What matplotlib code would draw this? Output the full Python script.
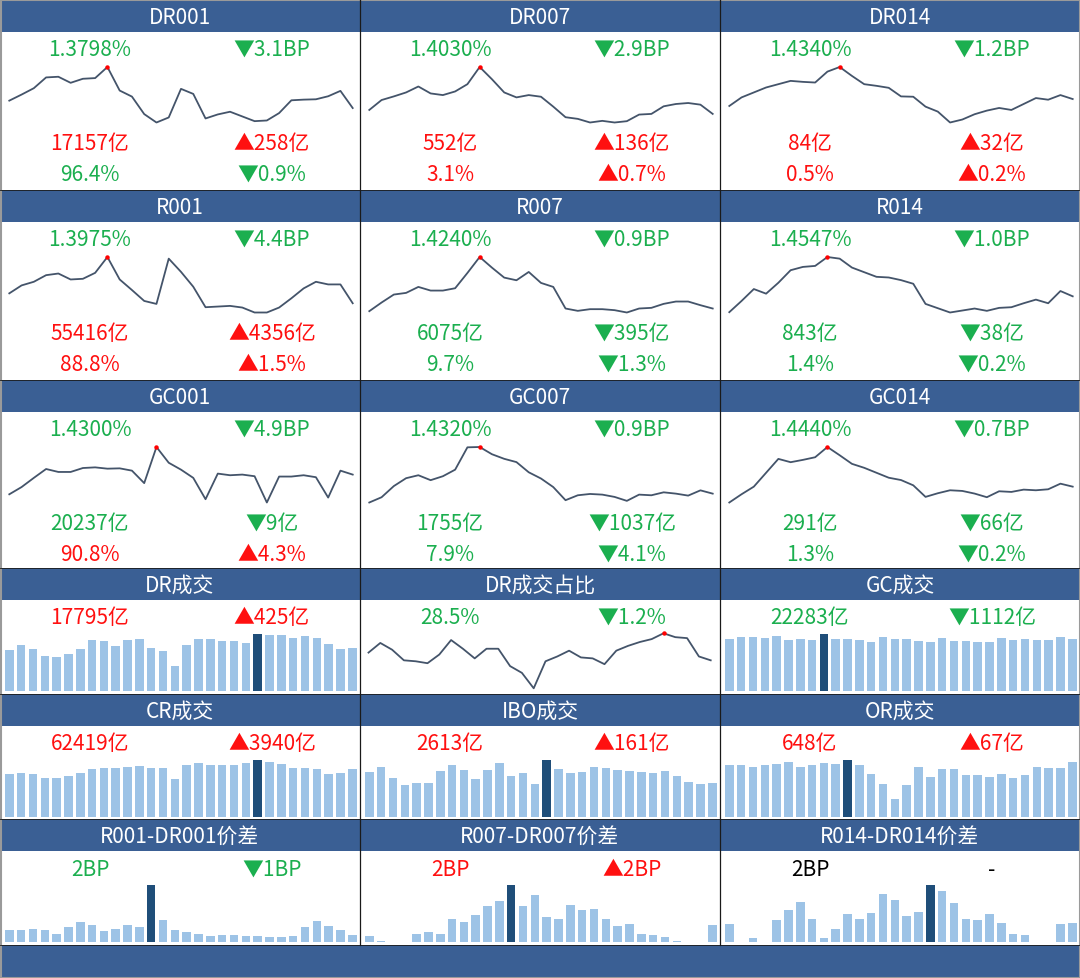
import numpy as np
import matplotlib
matplotlib.use("Agg")
import matplotlib.pyplot as plt
from matplotlib.patches import Rectangle

W, H = 1080, 979

FAM = ["Noto Sans CJK SC", "Noto Sans CJK JP", "Noto Sans CJK TC", "Noto Sans CJK KR", "DejaVu Sans"]
plt.rcParams["font.family"] = FAM

HEAD = "#3A5F94"
GREEN = "#1BAF4F"
RED = "#FF1010"
LINE = "#44546A"
BAR = "#9DC3E6"
BAR_HI = "#1F4E79"

# ---- rate panels (3 x 3) ----
rate_names = ["DR001", "DR007", "DR014", "R001", "R007", "R014", "GC001", "GC007", "GC014"]
rates = [1.3798, 1.4030, 1.4340, 1.3975, 1.4240, 1.4547, 1.4300, 1.4320, 1.4440]
rate_chg_bp = [-3.1, -2.9, -1.2, -4.4, -0.9, -1.0, -4.9, -0.9, -0.7]
volumes = [17157, 552, 84, 55416, 6075, 843, 20237, 1755, 291]
volume_chg = [258, 136, 32, 4356, -395, -38, -9, -1037, -66]
shares = [96.4, 3.1, 0.5, 88.8, 9.7, 1.4, 90.8, 7.9, 1.3]
share_chg = [-0.9, 0.7, 0.2, 1.5, -1.3, -0.2, 4.3, -4.1, -0.2]

# sparkline levels (relative)
dr001 = [95, 113, 132, 164, 166, 148, 160, 162, 195, 125, 107, 55, 30, 45, 130, 115, 42, 54, 62, 48, 34, 36, 58, 96, 98, 99, 108, 124, 73]
dr007 = [67, 97, 108, 120, 138, 117, 112, 123, 145, 197, 160, 120, 105, 112, 107, 77, 45, 40, 29, 34, 29, 33, 53, 55, 78, 85, 88, 83, 55]
dr014 = [79, 105, 120, 135, 145, 155, 152, 150, 183, 197, 170, 145, 140, 134, 108, 107, 77, 62, 29, 38, 54, 65, 73, 67, 85, 103, 98, 112, 100]
r001 = [90, 114, 125, 145, 150, 132, 134, 152, 200, 132, 100, 67, 58, 195, 155, 110, 48, 50, 52, 47, 32, 32, 47, 75, 105, 125, 117, 117, 60]
r007 = [37, 63, 87, 92, 110, 99, 99, 106, 152, 200, 168, 138, 130, 155, 122, 110, 45, 38, 43, 43, 40, 33, 45, 47, 59, 66, 66, 55, 45]
r014 = [33, 67, 103, 89, 122, 160, 170, 173, 200, 195, 168, 154, 140, 138, 130, 119, 58, 45, 32, 38, 44, 37, 46, 48, 60, 71, 60, 97, 81]
gc001 = [60, 82, 110, 137, 128, 128, 140, 142, 138, 139, 132, 94, 204, 156, 135, 110, 45, 123, 118, 120, 115, 35, 114, 114, 118, 112, 50, 132, 120]
gc007 = [35, 51, 85, 109, 118, 103, 115, 135, 203, 204, 182, 168, 158, 127, 108, 82, 42, 57, 61, 59, 52, 40, 59, 57, 66, 62, 56, 72, 62]
gc014 = [35, 60, 83, 125, 167, 157, 164, 172, 203, 178, 152, 140, 125, 110, 103, 87, 52, 63, 72, 70, 62, 51, 69, 67, 74, 72, 75, 92, 83]
rate_series = [dr001, dr007, dr014, r001, r007, r014, gc001, gc007, gc014]

# ---- turnover panels ----
dr_share = 28.5
dr_share_chg = -1.2
dr_share_line = [44, 54, 47, 36, 35, 33, 42, 57, 48, 38, 48, 48, 30, 23, 7, 35, 40, 46, 39, 38, 32, 46, 51, 55, 58, 64, 60, 59, 40, 36]

dr_turnover = [125, 139, 128, 106, 104, 111, 127, 153, 150, 137, 153, 158, 130, 121, 75, 139, 156, 156, 150, 150, 145, 172, 170, 170, 161, 165, 161, 141, 127, 130]
gc_turnover = [155, 161, 161, 159, 164, 154, 157, 152, 171, 157, 157, 152, 148, 161, 155, 155, 150, 148, 159, 151, 151, 148, 148, 159, 153, 155, 153, 153, 163, 156]
cr_turnover = [127, 132, 127, 115, 115, 122, 130, 142, 145, 145, 149, 152, 147, 147, 112, 154, 162, 156, 156, 156, 162, 170, 164, 159, 146, 146, 144, 127, 132, 142]
ibo_turnover = [135, 149, 117, 95, 100, 102, 136, 154, 140, 112, 140, 162, 122, 132, 99, 170, 142, 130, 134, 148, 146, 141, 137, 134, 130, 137, 122, 104, 97, 102]
or_turnover = [156, 156, 149, 155, 157, 164, 149, 154, 162, 157, 170, 154, 127, 97, 54, 96, 150, 118, 142, 144, 125, 126, 120, 128, 117, 125, 150, 147, 147, 163]

turn_names = ["DR成交", "GC成交", "CR成交", "IBO成交", "OR成交"]
turn_totals = [17795, 22283, 62419, 2613, 648]
turn_chg = [425, -1112, 3940, 161, 67]
turn_series = [dr_turnover, gc_turnover, cr_turnover, ibo_turnover, or_turnover]

# ---- spread panels ----
spread_names = ["R001-DR001价差", "R007-DR007价差", "R014-DR014价差"]
spreads = [2, 2, 2]
spread_chg = [-1, 2, None]
sp001 = [37, 37, 40, 36, 25, 44, 61, 52, 33, 38, 50, 45, 170, 66, 37, 30, 23, 18, 22, 20, 18, 18, 16, 16, 18, 44, 63, 49, 37, 20]
sp007 = [18, 2, 0, 0, 23, 30, 23, 70, 61, 82, 108, 123, 170, 106, 139, 75, 70, 110, 94, 99, 70, 49, 53, 24, 20, 16, 2, 0, 0, 51]
sp014 = [55, 0, 12, 0, 67, 94, 118, 69, 12, 40, 84, 70, 87, 143, 126, 78, 90, 170, 151, 115, 68, 66, 84, 56, 25, 20, 0, 0, 53, 58]
spread_series = [sp001, sp007, sp014]

COL_X = [0, 360, 720]
HEAD_Y = [1, 191, 381, 569, 695, 820]
HEAD_H = 32
FONT = 15
TITLE = 15
LX, RX = 90, 272


def px_axes(fig, x, y, w, h):
    ax = fig.add_axes([x / W, 1 - (y + h) / H, w / W, h / H])
    ax.axis("off")
    ax.patch.set_alpha(0)
    return ax


def arrow(c):
    return "▲" if c > 0 else "▼"


def color(c):
    return RED if c > 0 else GREEN


def label(base, x, y, s, c, size=FONT):
    base.text(x, y, s, color=c, ha="center", va="center", fontsize=size, family=FAM)


def header(base, x, y, title):
    base.add_patch(Rectangle((x, y), 360, HEAD_H, facecolor=HEAD, edgecolor="none"))
    label(base, x + 180, y + HEAD_H / 2 + 1, title, "white", TITLE)


def sparkline(fig, x, y, vals, x0=9.3, x1=352.7, top=67, bot=122.5):
    ax = px_axes(fig, x + x0, y + top, x1 - x0, bot - top)
    n = len(vals)
    ax.plot(range(n), vals, color=LINE, lw=1.3, clip_on=False)
    i = int(np.argmax(vals))
    ax.plot(i, vals[i], "o", color="red", ms=3.2, mec="none", clip_on=False)
    ax.set_xlim(0, n - 1)
    ax.set_ylim(min(vals), max(vals))


def bar_panel(fig, x, y, vals):
    ax = px_axes(fig, x + 3.4, y + 66, 354.8, 57)
    n = len(vals)
    hi = int(np.argmax(vals))
    cols = [BAR_HI if i == hi else BAR for i in range(n)]
    ax.bar(range(n), vals, width=0.72, color=cols)
    ax.set_xlim(-0.5, n - 0.5)
    ax.set_ylim(0, max(vals))


def main():
    fig = plt.figure(figsize=(W / 100, H / 100), dpi=100)
    base = fig.add_axes([0, 0, 1, 1])
    base.set_xlim(0, W)
    base.set_ylim(H, 0)
    base.axis("off")

    # rate panels
    for k, name in enumerate(rate_names):
        x = COL_X[k % 3]
        y = HEAD_Y[k // 3]
        header(base, x, y, name)
        c = color(rate_chg_bp[k])
        label(base, x + LX, y + 49, f"{rates[k]:.4f}%", c)
        label(base, x + RX, y + 49, f"{arrow(rate_chg_bp[k])}{abs(rate_chg_bp[k]):.1f}BP", c)
        c = color(volume_chg[k])
        label(base, x + LX, y + 143, f"{volumes[k]}亿", c)
        label(base, x + RX, y + 143, f"{arrow(volume_chg[k])}{abs(volume_chg[k])}亿", c)
        c = color(share_chg[k])
        label(base, x + LX, y + 174, f"{shares[k]:.1f}%", c)
        label(base, x + RX, y + 174, f"{arrow(share_chg[k])}{abs(share_chg[k]):.1f}%", c)
        sparkline(fig, x, y, rate_series[k])

    # turnover panels: DR, [share line], GC / CR, IBO, OR
    slots = [(0, 3), (2, 3), (0, 4), (1, 4), (2, 4)]
    for k, (ci, ri) in enumerate(slots):
        x = COL_X[ci]
        y = HEAD_Y[ri]
        header(base, x, y, turn_names[k])
        c = color(turn_chg[k])
        label(base, x + LX, y + 49, f"{turn_totals[k]}亿", c)
        label(base, x + RX, y + 49, f"{arrow(turn_chg[k])}{abs(turn_chg[k])}亿", c)
        bar_panel(fig, x, y, turn_series[k])

    x, y = COL_X[1], HEAD_Y[3]
    header(base, x, y, "DR成交占比")
    c = color(dr_share_chg)
    label(base, x + LX, y + 49, f"{dr_share:.1f}%", c)
    label(base, x + RX, y + 49, f"{arrow(dr_share_chg)}{abs(dr_share_chg):.1f}%", c)
    sparkline(fig, x, y, dr_share_line, x0=8.5, x1=350.7, top=65.3, bot=120.3)

    # spread panels
    for k, name in enumerate(spread_names):
        x, y = COL_X[k], HEAD_Y[5]
        header(base, x, y, name)
        chg = spread_chg[k]
        if chg is None:
            c, txt = "black", "-"
        else:
            c, txt = color(chg), f"{arrow(chg)}{abs(chg)}BP"
        label(base, x + LX, y + 50, f"{spreads[k]}BP", c)
        label(base, x + RX, y + 50, txt, c)
        bar_panel(fig, x, y, spread_series[k])

    # bottom band, grid lines and outer frame
    base.add_patch(Rectangle((0, 946), W, H - 946, facecolor=HEAD, edgecolor="none"))
    for gx in (360, 720):
        base.plot([gx, gx], [0, 946], color="#1A1A1A", lw=0.9)
    for ry in HEAD_Y[1:] + [946]:
        base.plot([0, W], [ry, ry], color="#1A1A1A", lw=0.6)
    base.add_patch(Rectangle((0.5, 0.5), W - 1, H - 1, facecolor="none", edgecolor="#9A9A9A", lw=1.5))

    fig.savefig("out.png", dpi=100)


if __name__ == "__main__":
    main()
